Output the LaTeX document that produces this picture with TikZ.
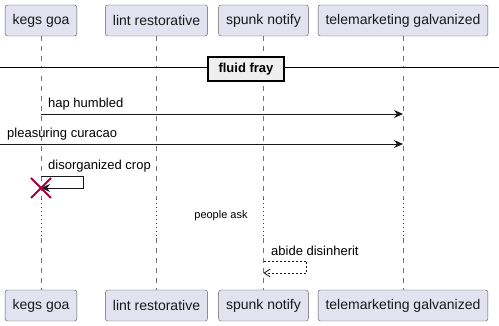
\documentclass[tikz,border=0pt]{standalone}
\usepackage{fontspec}
\setmainfont{Liberation Sans}
\usepackage{xcolor}
\usepackage{tikz}
\usetikzlibrary{arrows.meta,positioning,calc}

\definecolor{partfill}{HTML}{E2E2F0}
\definecolor{partline}{HTML}{5A5A5A}
\definecolor{killred}{HTML}{A80036}
\definecolor{divfill}{HTML}{EEEEEE}

\begin{document}
\begin{tikzpicture}[x=1pt, y=-1pt,
    part/.style={draw=partline, rounded corners=2.5pt, fill=partfill, inner xsep=7.5pt,
      minimum height=31pt, font=\fontsize{14}{16}\selectfont, text=black!90},
    life/.style={draw=black!55, dash pattern=on 5pt off 5pt},
    delay/.style={draw=killred, line width=0.9pt, dash pattern=on 1pt off 3pt},
    msg/.style={-{Stealth[length=9pt, width=8pt]}, line width=0.9pt, black!90},
    reply/.style={-{Straight Barb[length=6pt, width=8pt]}, line width=0.8pt, black!90,
      dash pattern=on 2pt off 2pt},
    lbl/.style={anchor=west, font=\fontsize{13}{15}\selectfont, inner sep=0pt},
  ]
    \useasboundingbox (0,0) rectangle (499,326);

    % Participants, top row
    \node[part] (kegsT) at (41, 20.5) {kegs goa};
    \node[part] (lintT) at (156.5, 20.5) {lint restorative};
    \node[part] (spunkT) at (263.5, 20.5) {spunk notify};
    \node[part] (teleT) at (403, 20.5) {telemarketing galvanized};

    % Participants, bottom row
    \node[part] (kegsB) at (41, 305.5) {kegs goa};
    \node[part] (lintB) at (156.5, 305.5) {lint restorative};
    \node[part] (spunkB) at (263.5, 305.5) {spunk notify};
    \node[part] (teleB) at (403, 305.5) {telemarketing galvanized};

    % Lifelines, with the delay section dotted
    \foreach \p in {kegs, lint, spunk, tele} {
      \coordinate (\p D1) at ($(\p T.south)!0.6406!(\p B.north)$);
      \coordinate (\p D2) at ($(\p T.south)!0.7941!(\p B.north)$);
      \draw[life] (\p T) -- (\p D1);
      \draw[delay] (\p D1) -- (\p D2);
      \draw[life] (\p D2) -- (\p B);
    }

    % Divider
    \coordinate (divL) at (0, 69.5);
    \coordinate (divR) at (499, 69.5);
    \draw[double distance=2.4pt, line width=0.8pt] (divL) -- (divR);
    \node[draw, line width=1.6pt, fill=divfill, minimum width=76pt, minimum height=24pt,
      inner sep=0pt, font=\fontsize{13}{15}\selectfont\bfseries] (fray) at (246, 69) {fluid fray};

    % Messages
    \coordinate (m1s) at (kegsT.south |- 0,114);
    \coordinate (m1e) at (teleT.south |- 0,114);
    \draw[msg] (m1s) -- (m1e);
    \node[lbl] (m1l) at (48, 104) {hap humbled};

    \coordinate (m2s) at (0, 144);
    \coordinate (m2e) at (teleT.south |- 0,144);
    \draw[msg] (m2s) -- (m2e);
    \node[lbl] (m2l) at (7, 134) {pleasuring curacao};

    \coordinate (m3s) at (kegsT.south |- 0,176);
    \coordinate (m3e) at (kegsT.south |- 0,188);
    \draw[msg] (m3s) -- ++(42,0) |- (m3e);
    \node[lbl] (m3l) at (48, 166) {disorganized crop};

    % Destroy mark
    \draw[killred, line width=1.8pt] ($(m3e)+(-10,-10)$) -- ($(m3e)+(10,10)$)
      ($(m3e)+(-10,10)$) -- ($(m3e)+(10,-10)$);

    % Delay text
    \node[font=\fontsize{11}{13}\selectfont, inner sep=0pt] (ask) at (221, 216) {people ask};

    % Reply to itself
    \coordinate (m4s) at (spunkT.south |- 0,261);
    \coordinate (m4e) at (spunkT.south |- 0,273);
    \draw[reply] (m4s) -- ++(43,0) |- (m4e);
    \node[lbl] (m4l) at (271, 251) {abide disinherit};
  \end{tikzpicture}
\end{document}
